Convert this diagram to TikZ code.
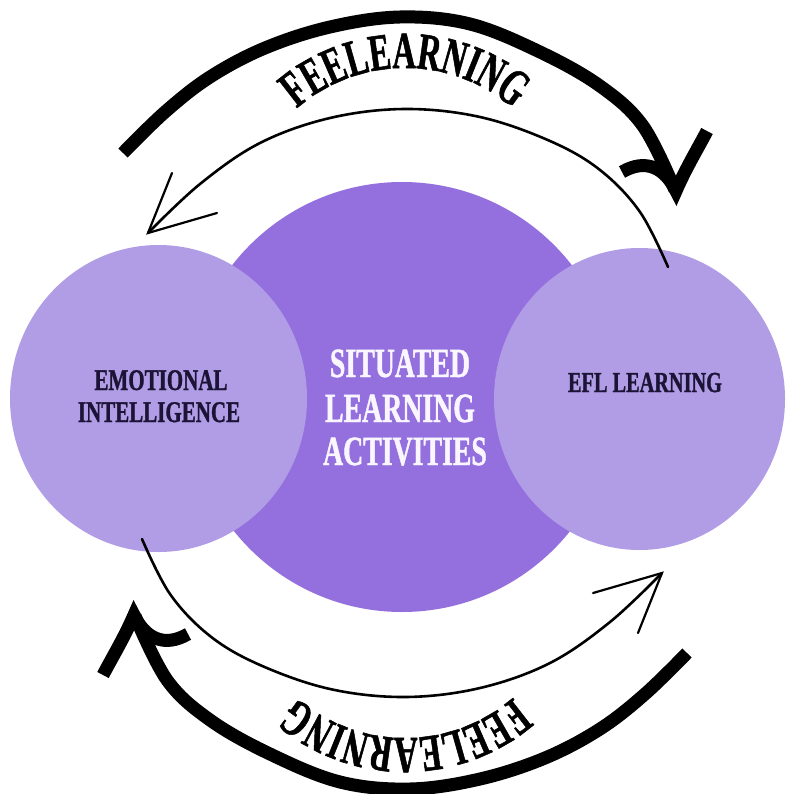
\documentclass[tikz,border=0pt]{standalone}
\usepackage{fontspec}
\usetikzlibrary{shapes.geometric,decorations.text}
\newfontfamily\arcfont{Liberation Serif}[FakeStretch=0.62,FakeBold=1]
\newfontfamily\boxfont{Liberation Serif}[FakeStretch=0.70,FakeBold=1]
\newfontfamily\midfont{Liberation Serif}[FakeStretch=0.67,FakeBold=1]
\newcommand\arcstyle{\arcfont\bfseries\fontsize{52}{52}\selectfont}
\definecolor{sidepurple}{RGB}{177,157,229}
\definecolor{midpurple}{RGB}{148,112,222}
\definecolor{inktext}{RGB}{28,20,54}
\definecolor{midwhite}{RGB}{250,246,255}
\tikzset{
  sidecirc/.style={ellipse, fill=sidepurple, draw=none, inner sep=0pt},
  midcirc/.style={circle, fill=midpurple, draw=none, inner sep=0pt, minimum size=430pt},
  sidelabel/.style={font=\boxfont\bfseries\fontsize{30}{32}\selectfont, text=inktext, anchor=base, inner sep=0pt},
  eflabel/.style={font=\boxfont\bfseries\fontsize{29}{31}\selectfont, text=inktext, anchor=base, inner sep=0pt},
  midlabel/.style={font=\midfont\bfseries\fontsize{41.5}{44}\selectfont, text=midwhite, anchor=base, inner sep=0pt},
  thickarc/.style={line width=13pt, line cap=butt, draw=black},
  thickhead/.style={line width=13pt, line cap=butt, line join=miter, miter limit=10, draw=black},
  thinarc/.style={line width=2.6pt, draw=black, line cap=round},
  thinbarb/.style={line width=2.2pt, draw=black, line join=miter, line cap=round},
  halfring/.pic={
    \coordinate (-thickstart) at (123,153);
    \coordinate (-thickend) at (675,190);
    \coordinate (-thinstart) at (668,267);
    \coordinate (-thintip) at (148,233);
    \draw[thickarc] plot[smooth, tension=0.6] coordinates {(-thickstart) (165,112) (210,77) (265,48) (330,27) (400,17) (470,24) (540,52) (600,86) (643,126) (-thickend)};
    \draw[thickhead] (622,172) .. controls (646,158) and (665,168) .. (676,191) .. controls (686,168) and (697,150) .. (707,131);
    \draw[thinarc] plot[smooth, tension=0.6] coordinates {(-thinstart) (640,212) (600,170) (550,141) (480,117) (405,109) (330,118) (260,143) (200,184) (-thintip)};
    \draw[thinbarb] (172,173) -- (-thintip) -- (217,213);
    \path[decorate, decoration={text along path, text align=center, text={|\arcstyle|FEELEARNING}}]
      plot[domain=-160:-20, samples=90] ({405+165*cos(\x)},{233+165*sin(\x)});
  }
}
\begin{document}
\begin{tikzpicture}[x=1pt,y=-1pt]
\useasboundingbox (0,0) rectangle (788,794);
\fill[white] (0,0) rectangle (788,794);
\node[midcirc] (sla) at (402,397) {};
\node[sidecirc, minimum width=297pt, minimum height=307pt] (emo) at (158.5,398.5) {};
\node[sidecirc, minimum width=291pt, minimum height=302pt] (efl) at (639.5,399) {};
\node[sidelabel] (emo1) at (161,390) {EMOTIONAL};
\node[sidelabel] (emo2) at (159,422) {INTELLIGENCE};
\node[eflabel] (efl1) at (645,392) {EFL LEARNING};
\node[midlabel] (sla1) at (400,377) {SITUATED};
\node[midlabel] (sla2) at (400,422) {LEARNING};
\node[midlabel] (sla3) at (405,465) {ACTIVITIES};
\pic (top) {halfring};
\pic[rotate=180] (bottom) at (810,806) {halfring};
\end{tikzpicture}
\end{document}
